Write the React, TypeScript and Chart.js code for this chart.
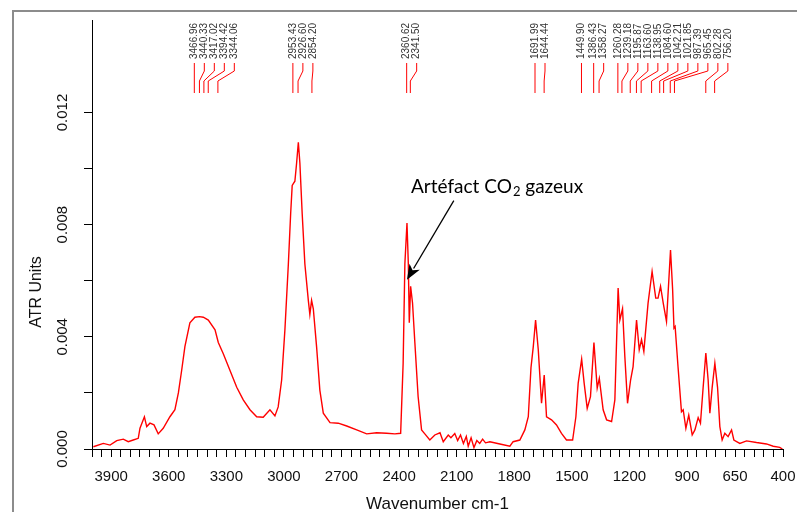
import React, { useEffect, useRef } from "react";
import { Chart, registerables } from "chart.js";

Chart.register(...registerables);

const wavenumbers = [
  3993, 3941, 3906, 3871, 3837, 3811, 3785, 3759, 3750, 3727, 3715, 3698, 3677, 3655, 3629, 3594,
  3568, 3550, 3533, 3516, 3490, 3464, 3440, 3420, 3394, 3359, 3342, 3316, 3281, 3246, 3212, 3177,
  3142, 3108, 3073, 3047, 3030, 3012, 2995, 2977, 2965, 2957, 2943, 2934, 2925, 2917, 2905, 2891,
  2873, 2865, 2856, 2847, 2830, 2813, 2795, 2760, 2717, 2673, 2621, 2569, 2517, 2465, 2422, 2392,
  2379, 2370, 2359, 2352, 2347, 2340, 2330, 2318, 2301, 2283, 2266, 2240, 2214, 2187, 2170, 2144,
  2130, 2110, 2095, 2080, 2065, 2050, 2040, 2025, 2010, 1995, 1980, 1965, 1950, 1927, 1875, 1823,
  1806, 1771, 1745, 1727, 1713, 1701, 1689, 1675, 1658, 1644, 1632, 1606, 1580, 1554, 1528, 1496,
  1479, 1467, 1449, 1436, 1420, 1403, 1385, 1368, 1357, 1337, 1319, 1293, 1276, 1259, 1250, 1236,
  1224, 1210, 1194, 1181, 1163, 1149, 1137, 1125, 1103, 1082, 1063, 1051, 1038, 1024, 1007, 995,
  986, 975, 968, 962, 947, 929, 920, 906, 891, 873, 859, 842, 830, 816, 802, 790,
  781, 769, 755, 741, 729, 717, 703, 686, 668, 656, 625, 590, 538, 486, 451, 417, 403,
];

const absorbance = [
  0.00008, 0.0002, 0.00014, 0.0003, 0.00035, 0.00026, 0.00032, 0.00038, 0.00074, 0.00115, 0.0008, 0.00092, 0.00086, 0.00054, 0.00074, 0.00115,
  0.0014, 0.002, 0.0028, 0.00365, 0.0045, 0.0047, 0.00472, 0.0047, 0.0046, 0.00425, 0.0038, 0.0034, 0.0028, 0.0022, 0.00175, 0.0014,
  0.00115, 0.00113, 0.0014, 0.00118, 0.0015, 0.00246, 0.00425, 0.0066, 0.0084, 0.0094, 0.00955, 0.0102, 0.01094, 0.0102, 0.0084, 0.0066,
  0.0053, 0.0048, 0.0053, 0.005, 0.00365, 0.0021, 0.00128, 0.00094, 0.00092, 0.00082, 0.00068, 0.00054, 0.00058, 0.00056, 0.00054, 0.00056,
  0.00306, 0.0066, 0.00806, 0.0066, 0.0045, 0.0058, 0.0052, 0.0038, 0.00187, 0.00068, 0.00054, 0.00032, 0.0005, 0.00058, 0.00026, 0.0005,
  0.0004, 0.00055, 0.0003, 0.0005, 0.0002, 0.00045, 0.0001, 0.0004, 0.00005, 0.0003, 0.0002, 0.00035, 0.00022, 0.00026, 0.00018, 0.0001,
  0.00026, 0.00032, 0.00068, 0.00115, 0.0029, 0.00365, 0.0046, 0.00354, 0.00163, 0.00264, 0.00115, 0.00104, 0.00086, 0.00056, 0.00032, 0.00032,
  0.00115, 0.00235, 0.0032, 0.00235, 0.00145, 0.00187, 0.0038, 0.00217, 0.00252, 0.0014, 0.00104, 0.00098, 0.00175, 0.00574, 0.0046, 0.005,
  0.0033, 0.00163, 0.00246, 0.00294, 0.0046, 0.00354, 0.0039, 0.00348, 0.0052, 0.00633, 0.00538, 0.00538, 0.0058, 0.0052, 0.00455, 0.006,
  0.0071, 0.00568, 0.00431, 0.00437, 0.00294, 0.00133, 0.0014, 0.00074, 0.00121, 0.0005, 0.00068, 0.00112, 0.00092, 0.0022, 0.00342, 0.00246,
  0.00128, 0.0022, 0.00306, 0.0022, 0.0008, 0.00032, 0.00056, 0.00044, 0.00068, 0.00032, 0.0002, 0.00029, 0.00023, 0.00018, 0.0001, 0.00006, 0.0,
];

const peakLabels = [
  3466.96, 3440.33, 3417.02, 3394.42, 3344.06, 2953.43, 2926.6, 2854.2, 2360.62, 2341.5,
  1691.99, 1644.44, 1449.9, 1386.43, 1358.27, 1260.28, 1239.18, 1195.87, 1163.6, 1138.95,
  1084.6, 1042.21, 1021.85, 987.39, 965.45, 802.28, 756.2,
];

const xTickLabels = [3900, 3600, 3300, 3000, 2700, 2400, 2100, 1800, 1500, 1200, 900, 650, 400];
const yMinorTicks = [0, 0.002, 0.004, 0.006, 0.008, 0.01, 0.012];
const yTickLabels = [0, 0.004, 0.008, 0.012];

const xAxisTitle = "Wavenumber cm-1";
const yAxisTitle = "ATR Units";
const annotationParts = ["Artéfact CO", "2", " gazeux"];
// annotation anchors in data units: [wavenumber, absorbance]
const annotationTextAt = [2338, 0.00914];
const arrowFrom = [2115, 0.00886];
const arrowTo = [2359, 0.00604];

const FONT = "'Liberation Sans', Arial, sans-serif";

export default function App() {
  const ref = useRef<HTMLCanvasElement>(null);

  useEffect(() => {
    const canvas = ref.current;
    if (!canvas) return;

    const overlay = {
      id: "overlay",
      afterDraw(chart: any) {
        const ctx = chart.ctx as CanvasRenderingContext2D;
        const xs = chart.scales.x;
        const ys = chart.scales.y;
        const area = chart.chartArea;

        // y tick labels (rotated)
        ctx.save();
        ctx.fillStyle = "#111";
        ctx.font = `15px ${FONT}`;
        ctx.textAlign = "center";
        ctx.textBaseline = "middle";
        yTickLabels.forEach((v) => {
          const py = ys.getPixelForValue(v);
          ctx.save();
          ctx.translate(63, py);
          ctx.rotate(-Math.PI / 2);
          ctx.fillText(v.toFixed(3), 0, 0);
          ctx.restore();
        });
        // y title
        ctx.font = `16px ${FONT}`;
        ctx.save();
        ctx.translate(37, 292);
        ctx.rotate(-Math.PI / 2);
        ctx.fillText(yAxisTitle, 0, 0);
        ctx.restore();
        ctx.restore();

        // peak labels
        ctx.save();
        ctx.font = `10px ${FONT}`;
        ctx.fillStyle = "#333";
        ctx.strokeStyle = "#ff0000";
        ctx.lineWidth = 1;
        const sorted = [...peakLabels].sort((a, b) => b - a);
        let prev = -Infinity;
        const top = area.top;
        sorted.forEach((wn) => {
          const px = xs.getPixelForValue(wn);
          const lx = Math.max(px, prev + 10);
          prev = lx;
          ctx.beginPath();
          ctx.moveTo(lx, top + 43);
          ctx.lineTo(lx, top + 51);
          ctx.lineTo(px, top + 61);
          ctx.lineTo(px, top + 73);
          ctx.stroke();
          ctx.save();
          ctx.translate(lx, top + 39);
          ctx.rotate(-Math.PI / 2);
          ctx.textAlign = "left";
          ctx.textBaseline = "middle";
          ctx.fillText(wn.toFixed(2), 0, 0);
          ctx.restore();
        });
        ctx.restore();

        // annotation
        ctx.save();
        ctx.fillStyle = "#000";
        ctx.textBaseline = "alphabetic";
        ctx.textAlign = "left";
        let tx = xs.getPixelForValue(annotationTextAt[0]);
        const ty = ys.getPixelForValue(annotationTextAt[1]);
        ctx.font = `19px Lato, 'Open Sans', sans-serif`;
        ctx.fillText(annotationParts[0], tx, ty);
        tx += ctx.measureText(annotationParts[0]).width + 1;
        ctx.font = `13px Lato, 'Open Sans', sans-serif`;
        ctx.fillText(annotationParts[1], tx, ty + 3);
        tx += ctx.measureText(annotationParts[1]).width;
        ctx.font = `19px Lato, 'Open Sans', sans-serif`;
        ctx.fillText(annotationParts[2], tx, ty);

        const x1 = xs.getPixelForValue(arrowFrom[0]);
        const y1 = ys.getPixelForValue(arrowFrom[1]);
        const x2 = xs.getPixelForValue(arrowTo[0]);
        const y2 = ys.getPixelForValue(arrowTo[1]);
        const ang = Math.atan2(y2 - y1, x2 - x1);
        const hl = 15;
        const hw = 6;
        const bx = x2 - hl * Math.cos(ang);
        const by = y2 - hl * Math.sin(ang);
        ctx.strokeStyle = "#000";
        ctx.lineWidth = 1.3;
        ctx.beginPath();
        ctx.moveTo(x1, y1);
        ctx.lineTo(bx + 2 * Math.cos(ang), by + 2 * Math.sin(ang));
        ctx.stroke();
        ctx.beginPath();
        ctx.moveTo(x2, y2);
        ctx.lineTo(bx + hw * Math.sin(ang), by - hw * Math.cos(ang));
        ctx.lineTo(bx + 4 * Math.cos(ang), by + 4 * Math.sin(ang));
        ctx.lineTo(bx - hw * Math.sin(ang), by + hw * Math.cos(ang));
        ctx.closePath();
        ctx.fill();
        ctx.restore();
      },
    };

    const chart = new Chart(canvas, {
      type: "line",
      data: {
        datasets: [
          {
            data: wavenumbers.map((w, i) => ({ x: w, y: absorbance[i] })),
            borderColor: "#ff0000",
            borderWidth: 1.4,
            pointRadius: 0,
            tension: 0,
            fill: false,
          },
        ],
      },
      options: {
        responsive: false,
        animation: false,
        plugins: { legend: { display: false }, tooltip: { enabled: false } },
        layout: { padding: { top: 20, right: 14, left: 0, bottom: 0 } },
        scales: {
          x: {
            type: "linear",
            reverse: true,
            min: 400,
            max: 4000,
            position: "bottom",
            afterFit: (s: any) => {
              s.height = 63;
              s.paddingLeft = 0;
              s.paddingRight = 0;
            },
            grid: { drawOnChartArea: false, drawTicks: true, tickLength: 8, tickColor: "#000", tickWidth: 1 },
            border: { display: true, color: "#000", width: 1 },
            ticks: {
              stepSize: 50,
              autoSkip: false,
              maxRotation: 0,
              minRotation: 0,
              padding: 11,
              color: "#111",
              font: { family: FONT, size: 15 },
              callback: (v: any) => (xTickLabels.includes(Number(v)) ? String(v) : ""),
            },
            title: {
              display: true,
              text: xAxisTitle,
              color: "#111",
              font: { family: FONT, size: 17 },
              padding: { top: 0, bottom: -3 },
            },
          },
          y: {
            type: "linear",
            min: 0,
            max: 0.0153,
            afterBuildTicks: (s: any) => {
              s.ticks = yMinorTicks.map((v) => ({ value: v }));
            },
            afterFit: (s: any) => {
              s.width = 92;
            },
            grid: { drawOnChartArea: false, drawTicks: true, tickLength: 8, tickColor: "#000", tickWidth: 1 },
            border: { display: true, color: "#000", width: 1 },
            ticks: { display: false },
          },
        },
      },
      plugins: [overlay],
    } as any);

    return () => chart.destroy();
  }, []);

  return (
    <div style={{ position: "fixed", left: 0, top: 0, width: 797, height: 512, background: "#fff" }}>
      <canvas ref={ref} width={797} height={512} style={{ display: "block" }} />
      <div
        style={{
          position: "absolute",
          left: 12,
          top: 10,
          right: 0,
          bottom: 0,
          borderLeft: "2px solid #8c8c8c",
          borderTop: "2px solid #8c8c8c",
          pointerEvents: "none",
        }}
      />
    </div>
  );
}
